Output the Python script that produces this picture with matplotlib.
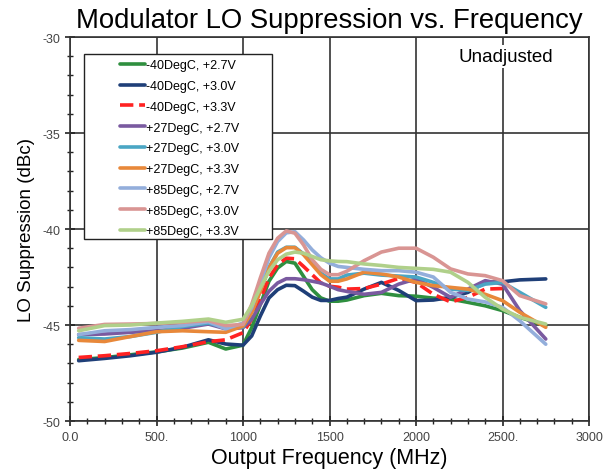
import matplotlib
matplotlib.use('Agg')
import matplotlib.pyplot as plt
from matplotlib.patches import Rectangle
from matplotlib.ticker import MultipleLocator, FixedLocator, FixedFormatter

plt.rcParams['font.family'] = ['Liberation Sans', 'DejaVu Sans']
plt.rcParams['axes.unicode_minus'] = False

# frequency points (MHz)
freq = [50, 200, 350, 500, 650, 800, 900, 1000,
        1050, 1100, 1150, 1200, 1250, 1300, 1350, 1400, 1450, 1500, 1550,
        1600, 1700, 1800, 1900, 2000, 2100, 2200, 2300, 2400, 2500, 2600, 2750]

# LO suppression (dBc) per condition
m40_27 = [-46.8, -46.7, -46.55, -46.4, -46.2, -45.9, -46.25, -46.05,
          -45.14, -43.93, -42.72, -42.03, -41.69, -41.78, -42.47, -43.16, -43.59, -43.76, -43.76,
          -43.7, -43.47, -43.35, -43.47, -43.5, -43.6, -43.65, -43.82, -44.0, -44.25, -44.6, -45.04]
m40_30 = [-46.86, -46.74, -46.6, -46.42, -46.16, -45.77, -45.99, -46.05,
          -45.57, -44.53, -43.59, -43.16, -42.93, -42.95, -43.24, -43.55, -43.72, -43.72, -43.62,
          -43.55, -43.13, -42.78, -43.2, -43.73, -43.7, -43.56, -43.3, -42.78, -42.75, -42.65, -42.6]
m40_33 = [-46.69, -46.6, -46.48, -46.34, -46.13, -45.87, -45.77, -45.4,
          -44.7, -43.67, -42.55, -41.86, -41.52, -41.55, -41.95, -42.38, -42.81, -42.98, -43.03,
          -43.13, -43.1, -42.87, -42.57, -42.78, -43.4, -43.8, -43.56, -43.13, -43.1]
p27_27 = [-45.5, -45.47, -45.38, -45.3, -45.17, -44.95, -45.2, -45.14,
          -44.7, -43.93, -43.24, -42.81, -42.59, -42.59, -42.64, -42.72, -42.81, -42.98, -43.16,
          -43.25, -43.4, -43.3, -42.87, -42.6, -43.04, -43.56, -43.13, -42.69, -42.87, -44.25, -45.73]
p27_30 = [-45.66, -45.73, -45.6, -45.38, -45.08, -44.9, -45.15, -45.1,
          -44.33, -43.2, -42.0, -41.2, -40.95, -40.95, -41.3, -41.8, -42.3, -42.6, -42.6,
          -42.4, -42.3, -42.4, -42.45, -42.5, -42.78, -43.13, -43.2, -42.87, -42.78, -43.3, -44.08]
p27_33 = [-45.8, -45.86, -45.6, -45.35, -45.3, -45.35, -45.38, -45.05,
          -44.36, -43.24, -42.03, -41.26, -40.97, -40.97, -41.34, -41.86, -42.38, -42.72, -42.72,
          -42.6, -42.25, -42.34, -42.5, -42.78, -42.95, -43.04, -43.13, -43.4, -43.73, -44.34, -45.12]
p85_27 = [-45.5, -45.3, -45.24, -45.12, -45.03, -44.83, -45.2, -44.9,
          -44.1, -42.8, -41.5, -40.65, -40.2, -40.14, -40.57, -41.09, -41.5, -41.78, -41.95,
          -42.0, -42.1, -42.17, -42.17, -42.25, -42.5, -43.3, -43.65, -43.8, -44.08, -44.78, -46.0]
p85_30 = [-45.17, -44.97, -44.95, -44.92, -44.86, -44.77, -45.03, -44.97,
          -43.93, -42.55, -41.26, -40.48, -40.1, -40.22, -40.83, -41.6, -42.1, -42.38, -42.38,
          -42.2, -41.65, -41.2, -41.0, -41.0, -41.47, -42.08, -42.34, -42.43, -42.69, -43.47, -43.9]
p85_33 = [-45.3, -45.03, -45.0, -44.9, -44.81, -44.69, -44.86, -44.7,
          -44.0, -43.07, -42.2, -41.6, -41.31, -41.2, -41.26, -41.43, -41.6, -41.66, -41.69,
          -41.7, -41.82, -41.9, -42.0, -42.05, -42.1, -42.25, -42.78, -43.56, -44.17, -44.6, -44.95]

labels = ['-40DegC, +2.7V', '-40DegC, +3.0V', '-40DegC, +3.3V',
          '+27DegC, +2.7V', '+27DegC, +3.0V', '+27DegC, +3.3V',
          '+85DegC, +2.7V', '+85DegC, +3.0V', '+85DegC, +3.3V']
series = [m40_27, m40_30, m40_33, p27_27, p27_30, p27_33, p85_27, p85_30, p85_33]
colors = ['#2f8f3f', '#1f3f78', '#ff2222', '#7a5aa0', '#4aa6c4', '#e8883a',
          '#93aedb', '#d99593', '#b0d08a']

xticks = [0, 500, 1000, 1500, 2000, 2500, 3000]
xticklabels = ['0.0', '500.', '1000', '1500', '2000', '2500.', '3000']
yticks = [-50, -45, -40, -35, -30]

fig = plt.figure(figsize=(6.1, 4.77), dpi=100)
ax = fig.add_axes([0.1148, 0.1153, 0.8508, 0.805])

for vals, lab, col in zip(series, labels, colors):
    ls = '--' if lab == '-40DegC, +3.3V' else '-'
    ax.plot(freq[:len(vals)], vals, color=col, lw=2.6, ls=ls, label=lab,
            solid_joinstyle='round', solid_capstyle='round', dash_capstyle='butt')

ax.set_xlim(0, 3000)
ax.set_ylim(-50, -30)
ax.xaxis.set_major_locator(FixedLocator(xticks))
ax.xaxis.set_major_formatter(FixedFormatter(xticklabels))
ax.xaxis.set_minor_locator(MultipleLocator(100))
ax.yaxis.set_major_locator(FixedLocator(yticks))
ax.yaxis.set_minor_locator(MultipleLocator(1))
ax.tick_params(which='major', direction='inout', length=7, width=1.2, labelsize=9,
               color='#222222', labelcolor='#444444')
ax.tick_params(which='minor', direction='inout', length=4, width=1.0, color='#222222')
ax.grid(True, which='major', color='#333333', lw=1.2)
for s in ax.spines.values():
    s.set_color('#333333')
    s.set_linewidth(1.2)

ax.set_title('Modulator LO Suppression vs. Frequency', fontsize=19.8, pad=7)
ax.set_xlabel('Output Frequency (MHz)', fontsize=15.5, labelpad=3)
ax.set_ylabel('LO Suppression (dBc)', fontsize=13.5, labelpad=5)

ax.text(0.84, 0.95, 'Unadjusted', transform=ax.transAxes, ha='center', va='center',
        fontsize=13.5, bbox=dict(facecolor='white', edgecolor='none', pad=2))

# legend box is wider than its contents in the original
ax.add_patch(Rectangle((0.027, 0.474), 0.362, 0.482, transform=ax.transAxes,
                       facecolor='white', edgecolor='#222222', lw=1.0, zorder=4.5))
leg = ax.legend(loc='upper left', bbox_to_anchor=(0.096, 0.942), fontsize=9,
                frameon=False, handlelength=2.0, handletextpad=0.08,
                labelspacing=0.7, borderpad=0, borderaxespad=0)

fig.savefig('out.png', dpi=100)
